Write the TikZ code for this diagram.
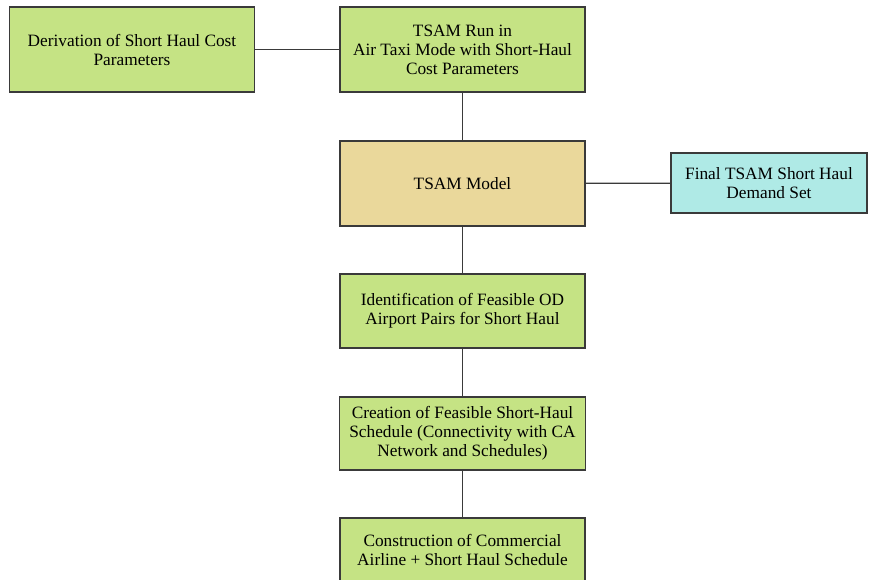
\documentclass[tikz,border=0pt]{standalone}
\usepackage{fontspec}
\setmainfont{Liberation Serif}
\definecolor{boxgreen}{HTML}{C5E384}
\definecolor{boxtan}{HTML}{EAD89B}
\definecolor{boxcyan}{HTML}{AFEAE6}
\definecolor{edgegray}{HTML}{3A3A3A}
\tikzset{
  box/.style={draw=edgegray, line width=1.4pt, rectangle, align=center,
    inner sep=0pt, font=\fontsize{17.3}{19}\selectfont, text=black},
  greenbox/.style={box, fill=boxgreen},
  link/.style={draw=edgegray, line width=1.2pt}
}
\begin{document}
\begin{tikzpicture}[x=1pt,y=-1pt]
\clip (0,0) rectangle (870,580);
\fill[white] (0,0) rectangle (870,580);
\node[greenbox, minimum width=245pt, minimum height=85pt] (deriv) at (132,49.5)
  {Derivation of Short Haul Cost\\Parameters};
\node[greenbox, minimum width=245pt, minimum height=85pt] (run) at (462.5,49.5)
  {TSAM Run in\\Air Taxi Mode with Short-Haul\\Cost Parameters};
\node[box, fill=boxtan, minimum width=245pt, minimum height=85pt] (model) at (462.5,183.5)
  {TSAM Model};
\node[box, fill=boxcyan, minimum width=196pt, minimum height=60pt] (final) at (769,183)
  {Final TSAM Short Haul\\Demand Set};
\node[greenbox, minimum width=245pt, minimum height=74pt] (ident) at (462.5,311)
  {Identification of Feasible OD\\Airport Pairs for Short Haul};
\node[greenbox, minimum width=246pt, minimum height=73pt] (create) at (462.5,433.5)
  {Creation of Feasible Short-Haul\\Schedule (Connectivity with CA\\Network and Schedules)};
\node[greenbox, minimum width=245pt, minimum height=64pt] (construct) at (462.5,550)
  {Construction of Commercial\\Airline + Short Haul Schedule};
\draw[link] (deriv) -- (run);
\draw[link] (run) -- (model);
\draw[link] (model) -- (final);
\draw[link] (model) -- (ident);
\draw[link] (ident) -- (create);
\draw[link] (create) -- (construct);
\end{tikzpicture}
\end{document}
